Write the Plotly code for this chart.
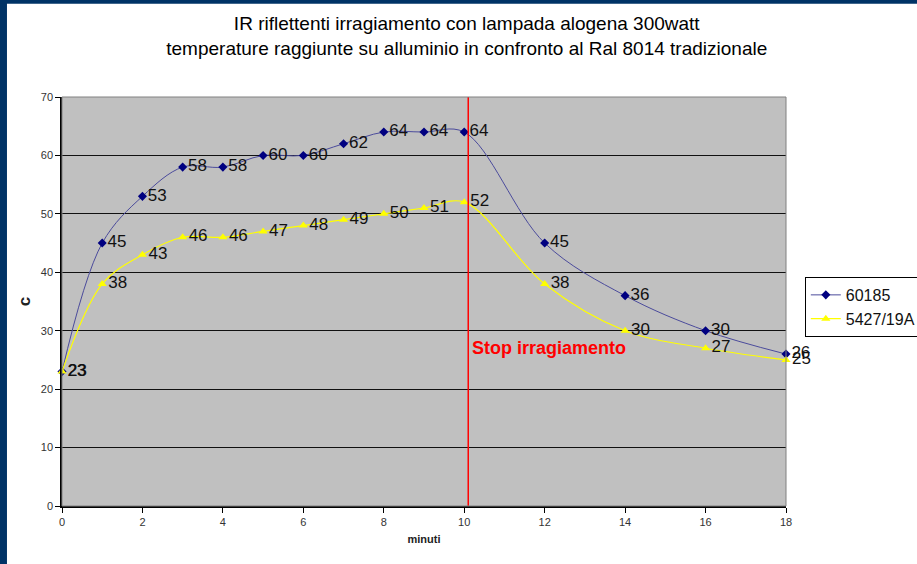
import plotly.graph_objects as go

minutes = [0, 1, 2, 3, 4, 5, 6, 7, 8, 9, 10, 12, 14, 16, 18]
series_60185 = [23, 45, 53, 58, 58, 60, 60, 62, 64, 64, 64, 45, 36, 30, 26]
series_5427 = [23, 38, 43, 46, 46, 47, 48, 49, 50, 51, 52, 38, 30, 27, 25]
stop_minute = 10.1
y_ticks = [0, 10, 20, 30, 40, 50, 60, 70]
x_ticks = [0, 2, 4, 6, 8, 10, 12, 14, 16, 18]

title_text = ("IR riflettenti irragiamento con lampada alogena 300watt<br>"
              "temperature raggiunte su alluminio in confronto al Ral 8014 tradizionale")

FONT = "Liberation Sans, Arial, sans-serif"

fig = go.Figure()
fig.add_trace(go.Scatter(
    x=minutes, y=series_60185, name="60185",
    mode="lines+markers+text",
    line=dict(color="#4b4b9c", width=1, shape="spline", smoothing=1),
    marker=dict(symbol="diamond", size=7, color="#000080"),
    text=[str(v) for v in series_60185], textposition="middle right",
    textfont=dict(family=FONT, size=17, color="#111111"),
    cliponaxis=False,
))
fig.add_trace(go.Scatter(
    x=minutes, y=series_5427, name="5427/19A",
    mode="lines+markers+text",
    line=dict(color="#ffff00", width=1.2, shape="spline", smoothing=1),
    marker=dict(symbol="triangle-up", size=8, color="#ffff00"),
    text=[str(v) for v in series_5427], textposition="middle right",
    textfont=dict(family=FONT, size=17, color="#111111"),
    cliponaxis=False,
))

fig.add_shape(type="line", xref="x", yref="paper", x0=stop_minute, x1=stop_minute,
              y0=0, y1=1, line=dict(color="#ff0000", width=1.5))
fig.add_annotation(x=stop_minute, y=27, xref="x", yref="y", text="<b>Stop irragiamento</b>",
                   showarrow=False, xanchor="left", yanchor="middle", xshift=2,
                   font=dict(family=FONT, size=18, color="#ff0000"))

# blue frame bands
fig.add_shape(type="rect", xref="paper", yref="paper", x0=-0.2, x1=-0.0760, y0=-0.2, y1=1.3,
              fillcolor="#003366", line=dict(width=0), layer="below")
fig.add_shape(type="rect", xref="paper", yref="paper", x0=-0.2, x1=1.3, y0=1.228, y1=1.3,
              fillcolor="#003366", line=dict(width=0), layer="below")
# gray plot border
fig.add_shape(type="rect", xref="paper", yref="paper", x0=0, x1=1, y0=0, y1=1,
              line=dict(color="#808080", width=1))

fig.update_layout(
    width=917, height=564,
    margin=dict(l=62, r=131, t=97, b=58, autoexpand=False),
    paper_bgcolor="white", plot_bgcolor="#c0c0c0",
    title=dict(text=title_text, x=0.509, xanchor="center", y=0.947, yanchor="middle",
               font=dict(family=FONT, size=19, color="#000000")),
    legend=dict(x=1.026, y=0.56, xanchor="left", yanchor="top",
                bgcolor="white", bordercolor="black", borderwidth=1,
                font=dict(family=FONT, size=16, color="#111111"),
                tracegroupgap=0, itemwidth=30),
    showlegend=True,
)
fig.update_xaxes(range=[0, 18], tickvals=x_ticks, showgrid=False, zeroline=False,
                 showline=True, linecolor="black", linewidth=1.5,
                 ticks="outside", ticklen=5, tickcolor="black",
                 tickfont=dict(family=FONT, size=11, color="#333333"),
                 title=dict(text="<b>minuti</b>", standoff=8,
                            font=dict(family=FONT, size=11, color="#222222")))
fig.update_yaxes(range=[0, 70], tickvals=y_ticks, showgrid=True, gridcolor="#111111", gridwidth=1,
                 zeroline=False, showline=True, linecolor="black", linewidth=1.5,
                 ticks="outside", ticklen=5, tickcolor="black",
                 tickfont=dict(family=FONT, size=11, color="#333333"),
                 title=dict(text="<b>c</b>", standoff=6,
                            font=dict(family=FONT, size=17, color="#222222")))

fig.write_html("out.html", config={"displayModeBar": False},
               post_script="document.body.style.margin='0px';document.body.style.overflow='hidden';")
